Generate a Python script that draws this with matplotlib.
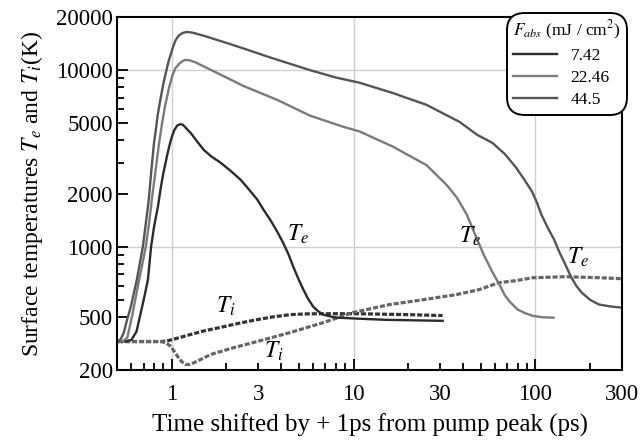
import matplotlib
matplotlib.use("Agg")
import matplotlib.pyplot as plt
from matplotlib.ticker import FixedLocator, FixedFormatter, FuncFormatter, NullFormatter

plt.rcParams['font.family'] = ['Liberation Serif', 'DejaVu Serif']
plt.rcParams['mathtext.fontset'] = 'stix'

# fluences (mJ/cm^2)
fluences = ["7.42", "22.46", "44.5"]
colors = ["#2b2b2b", "#7a7a7a", "#555555"]

# electron temperature Te, 7.42
t_e1 = [0.506, 0.56, 0.60, 0.64, 0.676, 0.71, 0.74, 0.77, 0.80, 0.84, 0.87, 0.90, 0.95,
        0.99, 1.03, 1.07, 1.11, 1.15, 1.20, 1.27, 1.38, 1.5, 1.65, 1.86, 2.1, 2.39, 2.65,
        2.96, 3.2, 3.48, 3.8, 4.1, 4.4, 4.66, 5.0, 5.3, 5.6, 6.0, 6.4, 6.8, 7.5, 8.1, 10,
        15, 30.9]
T_e1 = [290, 291, 296, 330, 423, 530, 650, 1000, 1300, 1690, 2150, 2620, 3400,
        4040, 4550, 4850, 4950, 4920, 4700, 4420, 3950, 3540, 3250, 2990, 2700, 2400, 2120,
        1846, 1620, 1422, 1220, 1053, 900, 770, 650, 571, 510, 457, 430, 412, 402, 396, 392,
        385, 380]

# Te, 22.46
t_e2 = [0.506, 0.54, 0.57, 0.61, 0.66, 0.69, 0.72, 0.75, 0.78, 0.815, 0.85, 0.885, 0.92,
        0.965, 1.01, 1.05, 1.1, 1.15, 1.19, 1.25, 1.35, 1.64, 2.0, 2.48, 3.8, 5.77, 8.7,
        10.8, 16.4, 25.2, 32.5, 37, 42, 47, 52, 58, 64, 68, 72, 80, 88, 97, 110, 126]
T_e2 = [290, 292, 305, 420, 640, 800, 1000, 1350, 1900, 2700, 3800, 5000, 6300,
        7900, 9400, 10300, 10900, 11300, 11450, 11400, 11100, 10060, 9100, 8150, 6800, 5530, 4800,
        4500, 3700, 2900, 2240, 1900, 1520, 1150, 900, 720, 600, 530, 490, 440, 420, 405, 398, 396]

# Te, 44.5
t_e3 = [0.506, 0.525, 0.545, 0.57, 0.596, 0.62, 0.643, 0.67, 0.694, 0.72, 0.748, 0.77,
        0.797, 0.82, 0.838, 0.87, 0.904, 0.96, 1.013, 1.05, 1.09, 1.15, 1.21, 1.3, 1.5, 2.0,
        2.48, 3.5, 5.8, 8, 10.8, 16.4, 25.2, 38.3, 48, 58, 68, 78.5, 87, 96, 102, 108, 117,
        127, 135, 144, 157, 168, 180, 200, 224, 260, 295]
T_e3 = [290, 300, 326, 390, 457, 550, 650, 820, 1000, 1350, 1846, 2600,
        3780, 4700, 5600, 7000, 8600, 11200, 13400, 14800, 15700, 16300, 16500, 16350, 15700, 14300,
        13300, 11800, 10000, 9100, 8500, 7440, 6370, 5100, 4300, 3880, 3350, 2800, 2400, 2050, 1780, 1520, 1280,
        1095, 940, 820, 676, 600, 549, 500, 470, 458, 452]

# ion temperature Ti, 7.42
t_i1 = [0.506, 0.87, 0.94, 1.0, 1.1, 1.27, 1.5, 1.93, 2.4, 2.95, 3.6, 4.48, 5.5, 6.8,
        10.4, 20, 30.9]
T_i1 = [290, 290, 292, 297, 305, 318, 333, 352, 370, 386, 400, 412, 416, 417,
        417, 412, 407]

# Ti, higher fluences
t_i2 = [0.506, 0.87, 0.93, 0.99, 1.04, 1.08, 1.13, 1.19, 1.26, 1.35, 1.45, 1.64, 2.2, 2.95,
        4.48, 6.8, 9.9, 15.8, 24, 36.8, 49, 63, 78, 97, 147, 224, 295]
T_i2 = [290, 290, 285, 272, 252, 238, 224, 215, 215, 222, 230, 245, 268, 290,
        326, 371, 423, 470, 500, 535, 571, 625, 642, 667, 676, 667, 659]

ytick_pos = [200, 400, 1000, 2000, 5000, 10000, 20000]
ytick_lab = ["200", "500", "1000", "2000", "5000", "10000", "20000"]
yminor = [500, 600, 700, 800, 900, 3000, 4000, 6000, 7000, 8000, 9000]
xlabeled = [3, 30, 300]

fig = plt.figure(figsize=(6.41, 4.41), dpi=100)
ax = fig.add_axes([0.1825, 0.161, 0.788, 0.800])

for v in [1, 10, 100]:
    ax.axvline(v, color="#cfcfcf", lw=1, zorder=0)
for v in [1000, 10000]:
    ax.axhline(v, color="#cfcfcf", lw=1, zorder=0)

ax.plot(t_i1, T_i1, color="#333333", lw=2.3, ls=(0, (1.6, 0.6)))
ax.plot(t_i2, T_i2, color="#666666", lw=2.3, ls=(0, (1.6, 0.6)))
lines = []
for t, T, c, lab in zip([t_e1, t_e2, t_e3], [T_e1, T_e2, T_e3], colors, fluences):
    ln, = ax.plot(t, T, color=c, lw=1.7, label=lab)
    lines.append(ln)

ax.set_xscale("log")
ax.set_yscale("log")
ax.set_xlim(0.5, 300)
ax.set_ylim(200, 20000)

ax.yaxis.set_major_locator(FixedLocator(ytick_pos))
ax.yaxis.set_major_formatter(FixedFormatter(ytick_lab))
ax.yaxis.set_minor_locator(FixedLocator(yminor))
ax.yaxis.set_minor_formatter(NullFormatter())

ax.xaxis.set_major_locator(FixedLocator([1, 10, 100]))
ax.xaxis.set_major_formatter(FuncFormatter(lambda v, p: "%g" % v))
xmin = [0.6, 0.7, 0.8, 0.9] + list(range(2, 10)) + list(range(20, 100, 10)) + [200, 300]
ax.xaxis.set_minor_locator(FixedLocator(xmin))
ax.xaxis.set_minor_formatter(FuncFormatter(lambda v, p: "%g" % v if round(v) in xlabeled else ""))

ax.tick_params(which="both", direction="in", top=False, right=False, width=1.3)
ax.tick_params(axis="y", which="both", labelsize=16.5, pad=3)
ax.tick_params(axis="x", which="both", labelsize=16.5, pad=10)
ax.tick_params(which="major", length=8)
ax.tick_params(which="minor", length=5)
for s in ax.spines.values():
    s.set_linewidth(1.5)

ax.set_xlabel("Time shifted by + 1ps from pump peak (ps)", fontsize=18, labelpad=6)
ax.set_ylabel("Surface temperatures $T_e$ and $T_i$(K)", fontsize=17, labelpad=8)

ax.text(4.3, 1080, "$T_e$", fontsize=17)
ax.text(38, 1060, "$T_e$", fontsize=17)
ax.text(150, 800, "$T_e$", fontsize=17)
ax.text(1.75, 425, "$T_i$", fontsize=17)
ax.text(3.2, 235, "$T_i$", fontsize=17)

leg = fig.legend(handles=lines, title="$F_{abs}$ (mJ / cm$^2$)", loc="upper right",
                 bbox_to_anchor=(627 / 641, 1 - 13 / 441), borderaxespad=0,
                 fontsize=12.5, title_fontsize=12.5,
                 frameon=True, fancybox=True, framealpha=1, edgecolor="black",
                 handlelength=2.5, handletextpad=0.8, labelspacing=0.34, borderpad=0.35)
leg.get_frame().set_linewidth(1.4)
leg.get_frame().set_boxstyle("round,pad=0.0,rounding_size=1.0")
leg._legend_box.align = "left"

fig.savefig("out.png", dpi=100)
